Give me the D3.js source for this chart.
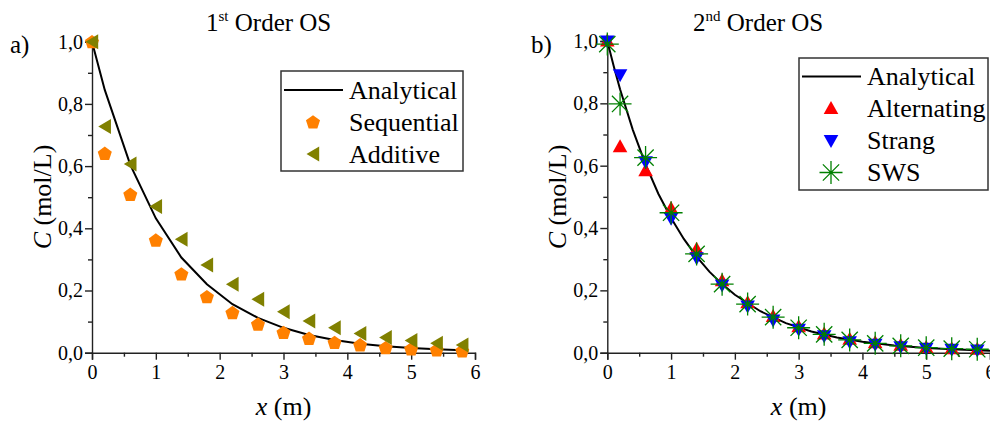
<!DOCTYPE html>
<html>
<head>
<meta charset="utf-8">
<script src="https://cdn.jsdelivr.net/npm/d3@7"></script>
<style>
  body { margin: 0; background: #fff; }
</style>
</head>
<body>
<svg id="plot" width="990" height="427"></svg>
<script>
let xs = [0, 0.2, 0.6, 1.0, 1.4, 1.8, 2.2, 2.6, 3.0, 3.4, 3.8, 4.2, 4.6, 5.0, 5.4, 5.8];

// panel a
let analyticalA = [1.0, 0.845, 0.604, 0.432, 0.306, 0.22, 0.156, 0.112, 0.080, 0.057, 0.041, 0.029, 0.021, 0.015, 0.011, 0.008];
let sequential = [1.0, 0.641, 0.509, 0.362, 0.253, 0.180, 0.129, 0.092, 0.065, 0.046, 0.033, 0.025, 0.016, 0.012, 0.009, 0.006];
let additive = [1.0, 0.727, 0.607, 0.470, 0.365, 0.282, 0.220, 0.172, 0.132, 0.102, 0.080, 0.062, 0.049, 0.039, 0.030, 0.025];

// panel b
let xsLine = [0, 0.1, 0.2, 0.4, 0.6, 0.8, 1.0, 1.2, 1.4, 1.6, 1.8, 2.0, 2.4, 2.8, 3.2, 3.6, 4.0, 4.5, 5.0, 5.5, 6.0];
let analyticalB = [1.0, 0.92, 0.845, 0.715, 0.604, 0.51, 0.432, 0.365, 0.308, 0.26, 0.22, 0.186, 0.133, 0.095, 0.068, 0.049, 0.035, 0.023, 0.015, 0.010, 0.006];
let alternating = [1.0, 0.661, 0.584, 0.463, 0.332, 0.231, 0.160, 0.116, 0.083, 0.060, 0.043, 0.032, 0.024, 0.017, 0.013, 0.011];
let strang = [1.0, 0.892, 0.613, 0.431, 0.305, 0.217, 0.150, 0.105, 0.075, 0.054, 0.035, 0.027, 0.019, 0.014, 0.011, 0.009];
let sws = [0.99, 0.798, 0.626, 0.449, 0.317, 0.220, 0.156, 0.114, 0.080, 0.059, 0.041, 0.030, 0.022, 0.016, 0.013, 0.011];

let xMajor = [0, 1, 2, 3, 4, 5, 6];
let xMinor = [0.5, 1.5, 2.5, 3.5, 4.5, 5.5];
let yMajor = [0, 0.2, 0.4, 0.6, 0.8, 1.0];
let yMinor = [0.1, 0.3, 0.5, 0.7, 0.9];

let serif = "Liberation Serif";

let comma = d3.formatLocale({decimal: ",", thousands: ".", grouping: [3], currency: ["", ""]});
let fmtY = comma.format(".1f");

function shape(type) {
  if (type === "pentagon") {
    let r = 7.4;
    return d3.range(5).map(i => {
      let a = -Math.PI / 2 + i * 2 * Math.PI / 5;
      return (i ? "L" : "M") + (r * Math.cos(a)).toFixed(2) + "," + (r * Math.sin(a) + 0.6).toFixed(2);
    }).join("") + "Z";
  }
  if (type === "left") return "M-6.5,0L6.2,-7.5L6.2,7.5Z";
  if (type === "up") return "M0,-7.5L7.3,5.5L-7.3,5.5Z";
  if (type === "down") return "M0,7.5L7.3,-5.5L-7.3,-5.5Z";
  if (type === "star") {
    let r = 11.5, p = "";
    for (let i = 0; i < 4; i++) {
      let a = i * Math.PI / 4;
      p += `M${(-r * Math.cos(a)).toFixed(2)},${(-r * Math.sin(a)).toFixed(2)}L${(r * Math.cos(a)).toFixed(2)},${(r * Math.sin(a)).toFixed(2)}`;
    }
    return p;
  }
}

function styleMark(sel, s) {
  if (s.type === "star") {
    sel.attr("fill", "none").attr("stroke", s.colour).attr("stroke-width", 1.3);
  } else {
    sel.attr("fill", s.colour).attr("stroke", "none");
  }
}

function drawPanel(svg, opt) {
  let x = d3.scaleLinear().domain([0, 6]).range(opt.xRange);
  let y = d3.scaleLinear().domain([0, 1]).range(opt.yRange);
  let g = svg.append("g");

  let xAxis = g => g
      .attr("transform", `translate(0, ${opt.yRange[0]})`)
      .call(d3.axisBottom(x).tickValues(xMajor).tickSize(7).tickPadding(5).tickFormat(d3.format("d")))
      .call(g => g.attr("font-size", 20))
      .call(g => g.selectAll("path, line").attr("stroke", "#222").attr("stroke-width", 1.4));

  let xAxisMinor = g => g
      .attr("transform", `translate(0, ${opt.yRange[0]})`)
      .call(d3.axisBottom(x).tickValues(xMinor).tickSize(4).tickFormat(""))
      .call(g => g.select(".domain").remove())
      .call(g => g.selectAll("line").attr("stroke", "#222").attr("stroke-width", 1.4));

  let yAxis = g => g
      .attr("transform", `translate(${opt.xRange[0]}, 0)`)
      .call(d3.axisLeft(y).tickValues(yMajor).tickSize(7).tickPadding(2).tickFormat(fmtY))
      .call(g => g.attr("font-size", 20))
      .call(g => g.selectAll("path, line").attr("stroke", "#222").attr("stroke-width", 1.4));

  let yAxisMinor = g => g
      .attr("transform", `translate(${opt.xRange[0]}, 0)`)
      .call(d3.axisLeft(y).tickValues(yMinor).tickSize(4).tickFormat(""))
      .call(g => g.select(".domain").remove())
      .call(g => g.selectAll("line").attr("stroke", "#222").attr("stroke-width", 1.4));

  g.append("g").call(xAxisMinor);
  g.append("g").call(yAxisMinor);
  g.append("g").call(xAxis);
  g.append("g").call(yAxis);

  // analytical line
  let line = d3.line().x(d => x(d[0])).y(d => y(d[1]));
  g.append("path")
      .datum(d3.zip(opt.lineX, opt.line))
      .attr("fill", "none")
      .attr("stroke", "#000")
      .attr("stroke-width", 2)
      .attr("d", line);

  // markers
  opt.series.forEach(s => {
    g.append("g").selectAll("path")
      .data(d3.zip(xs, s.values))
      .join("path")
      .attr("transform", d => `translate(${x(d[0])}, ${y(d[1])})`)
      .attr("d", shape(s.type))
      .call(sel => styleMark(sel, s));
  });

  // titles
  let title = g.append("text")
      .attr("x", opt.titleX)
      .attr("y", 31)
      .attr("font-size", 25)
      .attr("fill", "#000");
  title.append("tspan").text(opt.titleNum);
  title.append("tspan").text(opt.titleSup).attr("font-size", 15).attr("dy", -10);
  title.append("tspan").text(" Order OS").attr("dy", 10);

  g.append("text")
      .attr("x", opt.letterX)
      .attr("y", 53)
      .attr("font-size", 25)
      .text(opt.letter);

  let xl = g.append("text")
      .attr("x", (opt.xRange[0] + opt.xRange[1]) / 2)
      .attr("y", 415)
      .attr("text-anchor", "middle")
      .attr("font-size", 26);
  xl.append("tspan").attr("font-style", "italic").text("x");
  xl.append("tspan").text(" (m)");

  let yl = g.append("text")
      .attr("transform", `translate(${opt.xRange[0] - 41}, 197) rotate(-90)`)
      .attr("text-anchor", "middle")
      .attr("font-size", 26);
  yl.append("tspan").attr("font-style", "italic").text("C");
  yl.append("tspan").text(" (mol/L)");

  // legend
  let L = opt.legend;
  let lg = g.append("g");
  lg.append("rect")
      .attr("x", L.x).attr("y", L.y)
      .attr("width", L.w).attr("height", L.h)
      .attr("fill", "#fff")
      .attr("stroke", "#333")
      .attr("stroke-width", 1.5);
  let rowY = i => L.y + L.first + i * 32;
  lg.append("line")
      .attr("x1", L.x + 3).attr("x2", L.x + 62)
      .attr("y1", rowY(0)).attr("y2", rowY(0))
      .attr("stroke", "#000").attr("stroke-width", 2);
  lg.append("text")
      .attr("x", L.x + 68).attr("y", rowY(0)).attr("dy", "0.33em")
      .attr("font-size", 26).text("Analytical");
  opt.series.forEach((s, i) => {
    lg.append("path")
      .attr("transform", `translate(${L.x + 32}, ${rowY(i + 1)})`)
      .attr("d", shape(s.type))
      .call(sel => styleMark(sel, s));
    lg.append("text")
      .attr("x", L.x + 68).attr("y", rowY(i + 1)).attr("dy", "0.33em")
      .attr("font-size", 26).text(s.name);
  });

  // force the serif face on every text
  g.selectAll("text").style("font-family", serif);
}

let svg = d3.select("#plot");

drawPanel(svg, {
  xRange: [92, 475],
  yRange: [352.7, 41.7],
  lineX: xs,
  line: analyticalA,
  series: [
    {name: "Sequential", values: sequential, type: "pentagon", colour: "#ff8000"},
    {name: "Additive", values: additive, type: "left", colour: "#808000"}
  ],
  titleX: 206, titleNum: "1", titleSup: "st",
  letter: "a)", letterX: 10,
  legend: {x: 281, y: 71, w: 182, h: 100, first: 19}
});

drawPanel(svg, {
  xRange: [607.3, 990],
  yRange: [352.7, 41],
  lineX: xsLine,
  line: analyticalB,
  series: [
    {name: "Alternating", values: alternating, type: "up", colour: "#ff0000"},
    {name: "Strang", values: strang, type: "down", colour: "#0000ff"},
    {name: "SWS", values: sws, type: "star", colour: "#008000"}
  ],
  titleX: 693, titleNum: "2", titleSup: "nd",
  letter: "b)", letterX: 531,
  legend: {x: 799, y: 58, w: 189, h: 132, first: 18.5}
});
</script>
</body>
</html>
